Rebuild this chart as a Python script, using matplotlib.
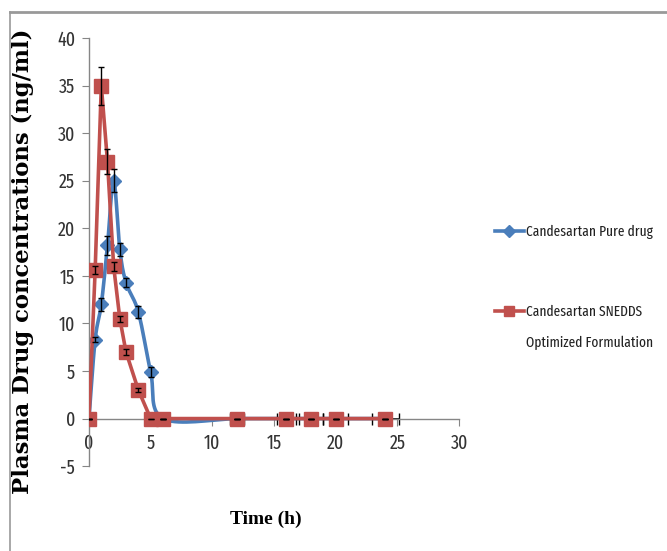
import matplotlib
matplotlib.use("Agg")
import matplotlib.pyplot as plt
from matplotlib.lines import Line2D
import numpy as np

# tiempos (h)
time = [0, 0.5, 1, 1.5, 2, 2.5, 3, 4, 5, 6, 12, 16, 18, 20, 24]

# concentraciones (ng/ml)
pure = [0, 8.3, 12.0, 18.2, 25.0, 17.8, 14.3, 11.2, 4.9, 0, 0, 0, 0, 0, 0]
pure_err = [0, 0.3, 0.7, 1.0, 1.2, 0.7, 0.5, 0.6, 0.5, 0, 0, 0, 0, 0, 0]

snedds = [0, 15.6, 35.0, 27.0, 16.0, 10.5, 7.0, 3.0, 0, 0, 0, 0, 0, 0, 0]
snedds_err = [0, 0.4, 2.0, 1.3, 0.5, 0.3, 0.3, 0.2, 0, 0, 0, 0, 0, 0, 0]

# barras horizontales en los tiempos largos
late_time = [12, 16, 18, 20, 24]
late_val = [0, 0, 0, 0, 0]
late_xerr = [0.6, 0.8, 1.0, 1.0, 1.1]

blue = "#4a7ebb"
red = "#c0504d"
axis_gray = "#868686"
sans = ["Fira Sans Extra Condensed", "Barlow Condensed", "Carlito", "DejaVu Sans"]
serif = ["Liberation Serif", "DejaVu Serif"]

plt.rcParams["axes.unicode_minus"] = False


def suavizar(x, y, n=20):
    # curva tipo catmull-rom como el "smoothed line" de excel
    x = np.asarray(x, float)
    y = np.asarray(y, float)
    px = np.concatenate([[x[0]], x, [x[-1]]])
    py = np.concatenate([[y[0]], y, [y[-1]]])
    xs = []
    ys = []
    for i in range(1, len(px) - 2):
        t = np.linspace(0, 1, n)
        for p, out in ((px, xs), (py, ys)):
            p0, p1, p2, p3 = p[i - 1], p[i], p[i + 1], p[i + 2]
            m1 = (p2 - p0) / 2
            m2 = (p3 - p1) / 2
            h00 = 2 * t**3 - 3 * t**2 + 1
            h10 = t**3 - 2 * t**2 + t
            h01 = -2 * t**3 + 3 * t**2
            h11 = t**3 - t**2
            out.extend(h00 * p1 + h10 * m1 + h01 * p2 + h11 * m2)
    return xs, ys


fig = plt.figure(figsize=(6.67, 5.51), dpi=100)
ax = fig.add_axes([0.1334, 0.154, 0.555, 0.777])

# linea azul suavizada
sx, sy = suavizar(time, pure)
ax.plot(sx, sy, color=blue, lw=2.6, zorder=2)
ax.plot(time, pure, "D", color=blue, ms=7.5, zorder=2)

ax.errorbar(late_time, late_val, xerr=late_xerr, fmt="none", ecolor="black",
            elinewidth=1.2, capsize=4, zorder=2.5)

ax.plot(time, snedds, "-s", color=red, lw=2.6, ms=10.5, zorder=3)

ax.errorbar(time, pure, yerr=pure_err, fmt="none", ecolor="black",
            elinewidth=1, capsize=2.5, zorder=4)
ax.errorbar(time, snedds, yerr=snedds_err, fmt="none", ecolor="black",
            elinewidth=1, capsize=2.5, zorder=4)

ax.set_xlim(0, 30)
ax.set_ylim(-5, 40)
ax.set_xticks(np.arange(0, 31, 5))
ax.set_yticks(np.arange(-5, 41, 5))

ax.spines["top"].set_visible(False)
ax.spines["right"].set_visible(False)
ax.spines["bottom"].set_position(("data", 0))
for s in ("left", "bottom"):
    ax.spines[s].set_color(axis_gray)
    ax.spines[s].set_linewidth(1)
ax.tick_params(direction="out", length=5, color=axis_gray, labelcolor="#333333")
ax.tick_params(axis="x", pad=6)
ax.tick_params(axis="y", pad=5)
for lab in ax.get_xticklabels() + ax.get_yticklabels():
    lab.set_family(sans)
    lab.set_fontsize(14)

ax.set_xlabel("Time (h)", family=serif, fontweight="bold", fontsize=14)
ax.xaxis.set_label_coords(0.478, -0.105)
fig.text(0.034, 0.525, "Plasma Drug concentrations (ng/ml)", rotation=90,
         ha="center", va="center", family="DejaVu Serif", fontweight="bold",
         fontsize=16.4)

# leyenda
handles = [Line2D([], [], color=blue, lw=2.6, marker="D", ms=6),
           Line2D([], [], color=red, lw=2.6, marker="s", ms=7)]
leg = fig.legend(handles, ["Candesartan Pure drug", "Candesartan SNEDDS"],
                 loc="upper left", bbox_to_anchor=(0.731, 0.606), frameon=False,
                 handlelength=2.0, handletextpad=0.12, labelspacing=4.5,
                 borderpad=0, prop={"family": sans, "size": 10.5})
for t in leg.get_texts():
    t.set_color("#222222")
fig.text(0.789, 0.377, "Optimized Formulation", family=sans, fontsize=10.5,
         va="center", ha="left", color="#222222")

# marco de la imagen
fig.add_artist(Line2D([0.015, 1.0], [0.978, 0.978], color="#999999", lw=2))
fig.add_artist(Line2D([0.015, 0.015], [0.0, 0.978], color="#999999", lw=1.2))

fig.savefig("out.png", dpi=100)
